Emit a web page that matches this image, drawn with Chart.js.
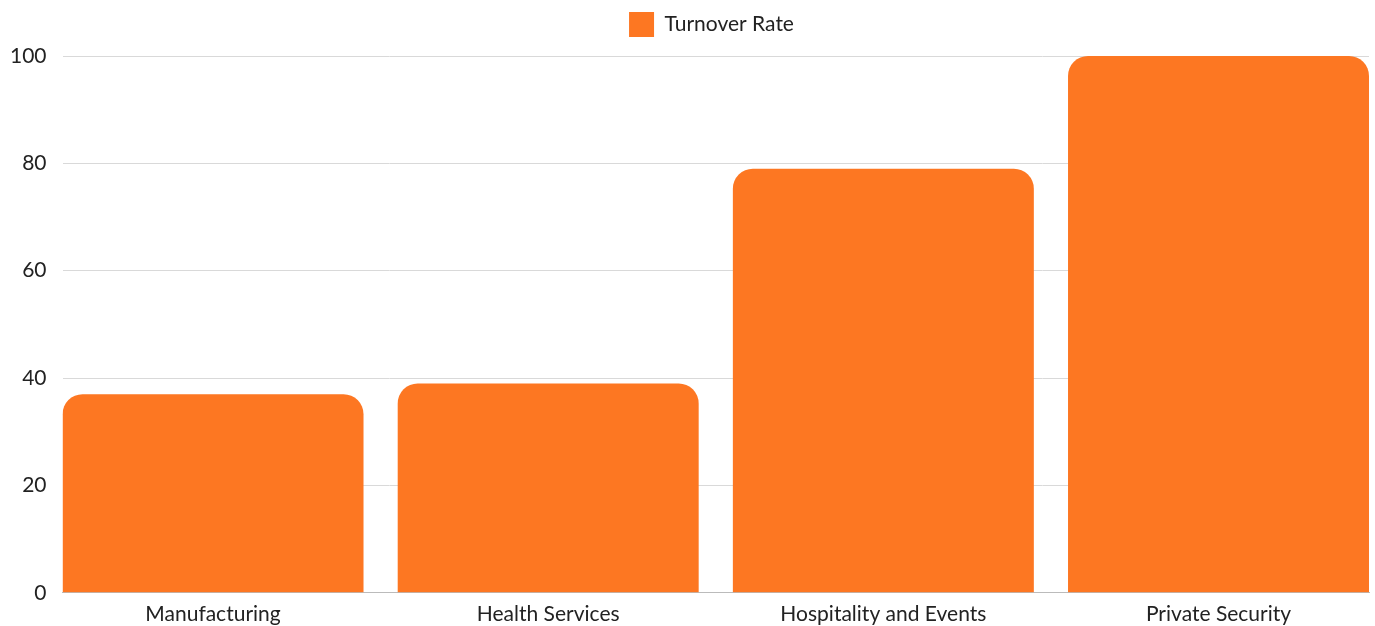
<!DOCTYPE html>
<html>
<head>
<meta charset="utf-8">
<script src="https://cdn.jsdelivr.net/npm/chart.js@4/dist/chart.umd.min.js"></script>
<style>
  html, body { margin: 0; padding: 0; background: #ffffff; }
  #wrap { width: 1375px; height: 626px; }
</style>
</head>
<body>
<div id="wrap"><canvas id="turnoverChart"></canvas></div>
<script>
// Industry categories and their turnover rates (%)
const industries = ['Manufacturing', 'Health Services', 'Hospitality and Events', 'Private Security'];
const turnoverRates = [37, 39, 79, 100];
const yTicks = [0, 20, 40, 60, 80, 100];

const barColor = '#fd7722';

Chart.defaults.font.family = 'Lato, "Open Sans", sans-serif';
Chart.defaults.color = '#222222';

// extra space under the legend, and legend centred over the plot area
const legendTweak = {
    id: 'legendTweak',
    beforeInit(chart) {
        const origFit = chart.legend.fit;
        chart.legend.fit = function () {
            origFit.bind(chart.legend)();
            this.height += 9;
        };
    },
    afterLayout(chart) {
        chart.legend.left += 30;
        chart.legend.right += 30;
    }
};

// x is a linear index axis so the outer bars sit flush with the plot edges
const points = turnoverRates.map((v, i) => ({ x: i, y: v }));

new Chart(document.getElementById('turnoverChart'), {
    type: 'bar',
    data: {
        datasets: [{
            label: 'Turnover Rate',
            data: points,
            backgroundColor: barColor,
            borderWidth: 0,
            borderRadius: 20,
            borderSkipped: 'start',
            categoryPercentage: 1,
            barPercentage: 0.898
        }]
    },
    options: {
        responsive: true,
        maintainAspectRatio: false,
        animation: false,
        // tick padding is counted twice when axes are sized, hence the negative values
        layout: {
            padding: { left: -6, right: 6, top: 0, bottom: -10 }
        },
        scales: {
            x: {
                type: 'linear',
                min: -0.449,
                max: industries.length - 1 + 0.449,
                offset: false,
                afterBuildTicks: axis => {
                    axis.ticks = industries.map((_, i) => ({ value: i }));
                },
                grid: { display: false, drawTicks: false },
                border: { display: true, color: '#bbbbbb', width: 1 },
                ticks: {
                    font: { size: 21 },
                    padding: 9,
                    autoSkip: false,
                    maxRotation: 0,
                    callback: value => industries[value]
                }
            },
            y: {
                min: 0,
                max: 100,
                afterBuildTicks: axis => {
                    axis.ticks = yTicks.map(v => ({ value: v }));
                },
                grid: { color: '#d9d9d9', drawTicks: false },
                border: { display: false },
                ticks: { font: { size: 21 }, padding: 16 }
            }
        },
        plugins: {
            legend: {
                display: true,
                position: 'top',
                labels: {
                    boxWidth: 25,
                    boxHeight: 25,
                    font: { size: 21 },
                    padding: 12
                }
            },
            tooltip: { enabled: false }
        }
    },
    plugins: [legendTweak]
});
</script>
</body>
</html>
